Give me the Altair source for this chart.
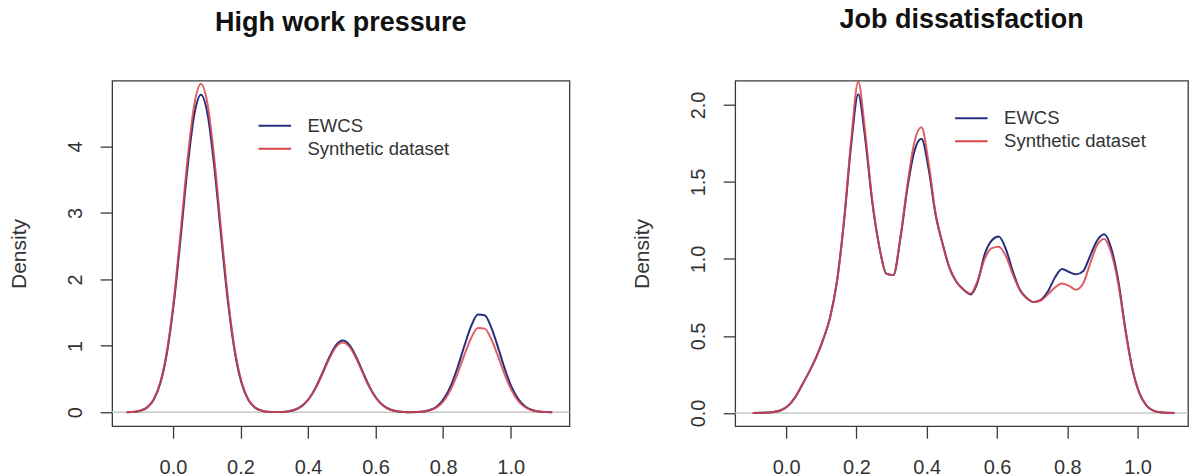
import altair as alt
import pandas as pd

# ---------------- data ----------------
SERIES = ["EWCS", "Synthetic dataset"]

# Panel 1: High work pressure
hwp_x = [-0.137, -0.117, -0.097, -0.077, -0.057, -0.037, -0.017, 0.003, 0.023, 0.043,
         0.063, 0.083, 0.103, 0.123, 0.143, 0.163, 0.183, 0.203, 0.223, 0.243,
         0.263, 0.283, 0.303, 0.323, 0.343, 0.363, 0.383, 0.403, 0.423, 0.443,
         0.463, 0.483, 0.503, 0.523, 0.543, 0.563, 0.583, 0.603, 0.623, 0.643,
         0.663, 0.683, 0.703, 0.723, 0.743, 0.763, 0.783, 0.803, 0.823, 0.843,
         0.863, 0.883, 0.903, 0.923, 0.943, 0.963, 0.983, 1.003, 1.023, 1.043,
         1.063, 1.083, 1.103, 1.123]
hwp_ewcs = [0.002, 0.006, 0.023, 0.070, 0.187, 0.443, 0.915, 1.660, 2.637, 3.670,
            4.474, 4.780, 4.474, 3.670, 2.637, 1.660, 0.915, 0.443, 0.187, 0.070,
            0.023, 0.006, 0.003, 0.005, 0.016, 0.042, 0.100, 0.207, 0.375, 0.596,
            0.829, 1.011, 1.080, 1.011, 0.829, 0.596, 0.375, 0.207, 0.100, 0.042,
            0.016, 0.005, 0.002, 0.004, 0.013, 0.038, 0.095, 0.209, 0.402, 0.678,
            1.001, 1.296, 1.471, 1.460, 1.271, 0.970, 0.648, 0.378, 0.194, 0.087,
            0.034, 0.012, 0.004, 0.001]
hwp_syn = [0.002, 0.007, 0.024, 0.072, 0.193, 0.458, 0.946, 1.716, 2.725, 3.793,
           4.624, 4.940, 4.624, 3.793, 2.725, 1.716, 0.946, 0.458, 0.193, 0.072,
           0.023, 0.007, 0.003, 0.005, 0.015, 0.041, 0.097, 0.201, 0.365, 0.579,
           0.806, 0.983, 1.050, 0.983, 0.806, 0.579, 0.365, 0.201, 0.097, 0.041,
           0.015, 0.005, 0.002, 0.003, 0.011, 0.033, 0.082, 0.180, 0.347, 0.585,
           0.864, 1.118, 1.268, 1.259, 1.096, 0.837, 0.559, 0.326, 0.168, 0.075,
           0.030, 0.010, 0.003, 0.001]

# Panel 2: Job dissatisfaction
jd_x = [-0.095, -0.075, -0.055, -0.035, -0.015, 0.005, 0.025, 0.045, 0.065, 0.085,
        0.105, 0.125, 0.145, 0.165, 0.185, 0.205, 0.225, 0.245, 0.265, 0.285,
        0.305, 0.325, 0.345, 0.365, 0.385, 0.405, 0.425, 0.445, 0.465, 0.485,
        0.505, 0.525, 0.545, 0.565, 0.585, 0.605, 0.625, 0.645, 0.665, 0.685,
        0.705, 0.725, 0.745, 0.765, 0.785, 0.805, 0.825, 0.845, 0.865, 0.885,
        0.905, 0.925, 0.945, 0.965, 0.985, 1.005, 1.025, 1.045, 1.065, 1.085,
        1.105]
jd_ewcs = [0.000, 0.001, 0.003, 0.007, 0.018, 0.045, 0.100, 0.180, 0.265, 0.360,
           0.475, 0.620, 0.860, 1.250, 1.740, 2.070, 1.780, 1.370, 1.080, 0.905,
           0.895, 1.130, 1.460, 1.700, 1.780, 1.590, 1.290, 1.100, 0.940, 0.850,
           0.800, 0.770, 0.850, 1.030, 1.120, 1.145, 1.065, 0.920, 0.800, 0.745,
           0.720, 0.735, 0.790, 0.880, 0.935, 0.915, 0.900, 0.920, 1.020, 1.120,
           1.160, 1.070, 0.860, 0.550, 0.290, 0.130, 0.050, 0.015, 0.004, 0.001,
           0.000]
jd_syn = [0.000, 0.001, 0.003, 0.007, 0.018, 0.045, 0.100, 0.180, 0.265, 0.360,
          0.475, 0.620, 0.860, 1.260, 1.770, 2.150, 1.820, 1.380, 1.080, 0.905,
          0.895, 1.140, 1.480, 1.760, 1.855, 1.630, 1.300, 1.100, 0.940, 0.850,
          0.800, 0.775, 0.860, 1.000, 1.070, 1.080, 1.020, 0.900, 0.800, 0.745,
          0.720, 0.730, 0.770, 0.815, 0.840, 0.825, 0.800, 0.840, 0.970, 1.090,
          1.130, 1.040, 0.840, 0.540, 0.285, 0.128, 0.050, 0.015, 0.004, 0.001,
          0.000]

x_ticks = [0.0, 0.2, 0.4, 0.6, 0.8, 1.0]
hwp_y_ticks = [0, 1, 2, 3, 4]
jd_y_ticks = [0.0, 0.5, 1.0, 1.5, 2.0]

# ---------------- styling ----------------
COLORS = ["#262f7e", "#d8434a"]
H = 346


def panel(xs, ewcs, syn, title, xdom, ydom, yticks, yfmt, legx, legy, width):
    df = pd.DataFrame({
        "x": xs + xs,
        "density": ewcs + syn,
        "series": [SERIES[0]] * len(xs) + [SERIES[1]] * len(xs),
    })
    zero_df = pd.DataFrame({"density": [0.0]})

    xenc = alt.X("x:Q",
                 scale=alt.Scale(domain=xdom, nice=False, zero=False),
                 axis=alt.Axis(values=x_ticks, format=".1f", title=None,
                               labelPadding=19.5, labelFlush=False,
                               labelOverlap=False))
    yenc = alt.Y("density:Q",
                 scale=alt.Scale(domain=ydom, nice=False, zero=False),
                 axis=alt.Axis(values=yticks, format=yfmt, title="Density",
                               labelAngle=270, labelAlign="center",
                               labelBaseline="bottom", labelPadding=15,
                               labelFlush=False, labelOverlap=False,
                               titleAngle=270, titleAlign="center",
                               titleBaseline="bottom", titleX=-82.5))
    legend = alt.Legend(title=None, orient="none", legendX=legx, legendY=legy,
                        symbolType="stroke", symbolSize=1056,
                        symbolStrokeWidth=2, labelFontSize=18.5,
                        labelColor="#333333", labelOffset=15.3,
                        clipHeight=23, rowPadding=0, padding=0)
    color = alt.Color("series:N",
                      scale=alt.Scale(domain=SERIES, range=COLORS),
                      legend=legend)

    zero = alt.Chart(zero_df).mark_rule(color="#c8c8c8", strokeWidth=1.5).encode(
        y=alt.Y("density:Q"))
    l1 = alt.Chart(df).mark_line(strokeWidth=2, interpolate="monotone").encode(
        x=xenc, y=yenc, color=color).transform_filter(alt.datum.series == SERIES[0])
    l2 = alt.Chart(df).mark_line(strokeWidth=2, interpolate="monotone",
                                 strokeOpacity=0.85).encode(
        x=xenc, y=yenc, color=color).transform_filter(alt.datum.series == SERIES[1])
    return alt.layer(zero, l1, l2).properties(width=width, height=H, title=title)


left = panel(hwp_x, hwp_ewcs, hwp_syn, "High work pressure",
             [-0.18, 1.174], [-0.21, 4.99], hwp_y_ticks, "d", 145.4, 33.5, 458)
right = panel(jd_x, jd_ewcs, jd_syn, "Job dissatisfaction",
              [-0.145, 1.1435], [-0.086, 2.157], jd_y_ticks, ".1f", 219, 26, 453.5)

chart = (
    alt.hconcat(left, right, spacing=166, bounds="flush")
    .resolve_scale(color="independent")
    .resolve_legend(color="independent")
    .properties(padding={"left": -0.7, "top": -3.5, "right": -0.5, "bottom": 0})
    .configure(font="Liberation Sans")
    .configure_view(stroke="#3a3a3a", strokeWidth=1.3)
    .configure_axis(grid=False, domain=False, tickColor="#3a3a3a",
                    tickWidth=1.3, tickSize=12, labelFontSize=20,
                    labelColor="#333333", titleFontSize=21,
                    titleFontWeight="normal", titleColor="#333333")
    .configure_title(fontSize=27, fontWeight="bold", color="#111111",
                     anchor="middle", frame="group", baseline="top",
                     offset=43.5)
)

chart.save("out.html", embed_options={"renderer": "svg", "actions": False})
